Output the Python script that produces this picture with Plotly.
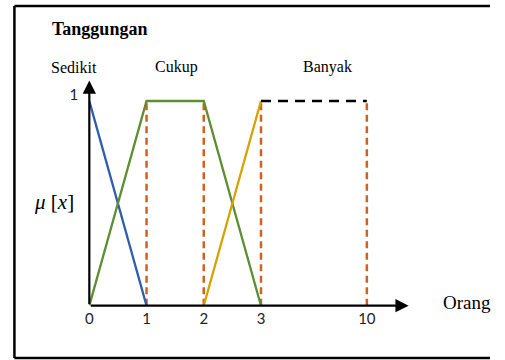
import numpy as np
import plotly.graph_objects as go

# ---- data ----
sedikit_x = [0, 1]
sedikit_mu = [1, 0]
cukup_x = [0, 1, 2, 3]
cukup_mu = [0, 1, 1, 0]
banyak_x = [2, 3]
banyak_mu = [0, 1]
banyak_ext_x = [3, 10]
banyak_ext_mu = [1, 1]
boundary_x = [1, 2, 3, 10]
tick_values = [0, 1, 2, 3, 10]
tick_labels = ["0", "1", "2", "3", "10"]
set_names = ["Sedikit", "Cukup", "Banyak"]

# broken (piecewise-linear) x scale: 0..3 linear, 3..10 compressed
SCALE_IN = [0, 3, 10]
SCALE_OUT = [0, 3, 4.85]


def sx(v):
    return list(np.interp(v, SCALE_IN, SCALE_OUT))


W, H = 505, 360
BLUE = "#2F5DAD"
GREEN = "#5B8F31"
GOLD = "#D4A202"
ORANGE = "#D0611E"
SERIF = "Liberation Serif, Times New Roman, serif"
SANS = "Lato, Open Sans, sans-serif"

fig = go.Figure()

for b in boundary_x:
    fig.add_trace(go.Scatter(x=sx([b, b]), y=[0, 1], mode="lines",
                             line=dict(color=ORANGE, width=2.5, dash="7px,4.5px"),
                             hoverinfo="skip"))

fig.add_trace(go.Scatter(x=sx(sedikit_x), y=sedikit_mu, mode="lines",
                         line=dict(color=BLUE, width=2.3), name=set_names[0]))
fig.add_trace(go.Scatter(x=sx(cukup_x), y=cukup_mu, mode="lines",
                         line=dict(color=GREEN, width=2.3), name=set_names[1]))
fig.add_trace(go.Scatter(x=sx(banyak_x), y=banyak_mu, mode="lines",
                         line=dict(color=GOLD, width=2.3), name=set_names[2]))
fig.add_trace(go.Scatter(x=sx(banyak_ext_x), y=banyak_ext_mu, mode="lines",
                         line=dict(color="black", width=2.5, dash="10px,7px"),
                         hoverinfo="skip"))

XR = [0, 5.6]
YR = [0, 1.1075]

annotations = [
    dict(x=5.58, y=0, ax=0, ay=0, xref="x", yref="y", axref="x", ayref="y",
         showarrow=True, arrowhead=2, arrowsize=1.2, arrowwidth=2.2,
         arrowcolor="black", text=""),
    dict(x=0, y=1.1, ax=0, ay=0, xref="x", yref="y", axref="x", ayref="y",
         showarrow=True, arrowhead=2, arrowsize=1.2, arrowwidth=2.2,
         arrowcolor="black", text=""),
    dict(x=46 / W, y=1 - 29 / H, xref="paper", yref="paper", xanchor="left",
         yanchor="middle", text="<b>Tanggungan</b>", showarrow=False,
         font=dict(family=SERIF, size=18, color="black")),
    dict(x=71 / W, y=1 - 67 / H, xref="paper", yref="paper", xanchor="center",
         yanchor="middle", text=set_names[0], showarrow=False,
         font=dict(family=SERIF, size=16, color="black")),
    dict(x=174 / W, y=1 - 67 / H, xref="paper", yref="paper", xanchor="center",
         yanchor="middle", text=set_names[1], showarrow=False,
         font=dict(family=SERIF, size=16, color="black")),
    dict(x=326 / W, y=1 - 67 / H, xref="paper", yref="paper", xanchor="center",
         yanchor="middle", text=set_names[2], showarrow=False,
         font=dict(family=SERIF, size=16, color="black")),
    dict(x=440 / W, y=1 - 302 / H, xref="paper", yref="paper", xanchor="left",
         yanchor="middle", text="Orang", showarrow=False,
         font=dict(family=SERIF, size=19, color="black")),
    dict(x=50 / W, y=1 - 202 / H, xref="paper", yref="paper", xanchor="center",
         yanchor="middle", text="<i>μ</i> [<i>x</i>]", showarrow=False,
         font=dict(family=SERIF, size=21, color="black")),
]

FL, FT, FB = 10.5 / W, 1 - 6 / H, 1 - 358 / H
frame = dict(xref="paper", yref="paper", line=dict(color="black", width=2.5))
shapes = [
    dict(type="line", x0=FL, x1=FL, y0=FB, y1=FT, **frame),
    dict(type="line", x0=FL, x1=0.97, y0=FT, y1=FT, **frame),
    dict(type="line", x0=FL, x1=0.97, y0=FB, y1=FB, **frame),
]

fig.update_layout(
    width=W, height=H,
    margin=dict(l=0, r=0, t=0, b=0),
    paper_bgcolor="white", plot_bgcolor="white",
    showlegend=False,
    xaxis=dict(domain=[86 / W, 409 / W], range=XR, showgrid=False,
               zeroline=False, showline=False, ticks="",
               tickvals=sx(tick_values), ticktext=tick_labels,
               tickfont=dict(family=SANS, size=15, color="#222"),
               ticklabelstandoff=2, fixedrange=True),
    yaxis=dict(domain=[1 - 305.7 / H, 1 - 79 / H], range=YR, showgrid=False,
               zeroline=False, showline=False, ticks="",
               tickvals=[1], ticktext=["1"],
               tickfont=dict(family=SANS, size=15, color="#222"),
               ticklabelstandoff=10, ticklabelshift=-6, fixedrange=True),
    annotations=annotations,
    shapes=shapes,
)

fig.write_html("out.html", config={"displayModeBar": False},
               post_script="document.documentElement.style.margin='0px';document.body.style.margin='0px';document.documentElement.style.overflow='hidden';document.body.style.overflow='hidden';")
